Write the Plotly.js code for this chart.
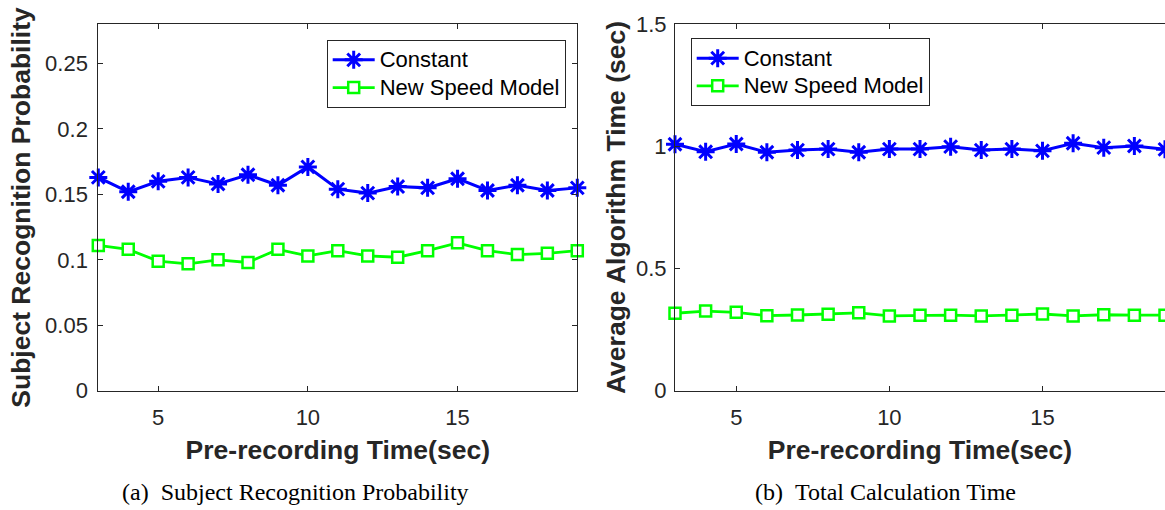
<!DOCTYPE html>
<html>
<head>
<meta charset="utf-8">
<script src="https://cdn.plot.ly/plotly-3.0.1.min.js"></script>
<style>
  html, body { margin: 0; padding: 0; background: #fff; }
  #chart { width: 1165px; height: 510px; }
</style>
</head>
<body>
<div id="chart"></div>
<script>
// ---- data ----
const preRecordingTime = [3, 4, 5, 6, 7, 8, 9, 10, 11, 12, 13, 14, 15, 16, 17, 18, 19];

const constantProb = [0.163, 0.152, 0.160, 0.163, 0.158, 0.165, 0.157, 0.171, 0.154, 0.151, 0.156, 0.155, 0.162, 0.153, 0.157, 0.153, 0.155];
const speedModelProb = [0.111, 0.108, 0.099, 0.097, 0.100, 0.098, 0.108, 0.103, 0.107, 0.103, 0.102, 0.107, 0.113, 0.107, 0.104, 0.105, 0.107];

const constantTime = [1.009, 0.978, 1.010, 0.976, 0.985, 0.989, 0.976, 0.989, 0.989, 0.999, 0.985, 0.989, 0.982, 1.013, 0.995, 1.002, 0.988];
const speedModelTime = [0.317, 0.326, 0.321, 0.307, 0.310, 0.313, 0.319, 0.306, 0.309, 0.309, 0.306, 0.309, 0.314, 0.306, 0.311, 0.309, 0.309];

const seriesNames = ["Constant", "New Speed Model"];
const xTitle = "Pre-recording Time(sec)";
const yTitleLeft = "Subject Recognition Probability";
const yTitleRight = "Average Algorithm Time (sec)";
const captionLeft = "(a)&nbsp;&nbsp;Subject Recognition Probability";
const captionRight = "(b)&nbsp;&nbsp;Total Calculation Time";
const xTickVals = [5, 10, 15];

// ---- styling ----
const W = 1165, H = 510;
const BLUE = "#0000FF", GREEN = "#00FF00";
const AX = "#262626";
const SANS = "'Liberation Sans', Arial, Helvetica, sans-serif";
const SERIF = "'Liberation Serif', 'Times New Roman', Times, serif";

const plotTopPx = 24.3, plotBottomPx = 390.7;
const yDom = [1 - plotBottomPx / H, 1 - plotTopPx / H];

function legendLabel(s) {
  return "<span style='font-size:22px'>" + s + "</span>";
}

function blueTrace(y, xa, ya, lg) {
  return {
    x: preRecordingTime, y: y, xaxis: xa, yaxis: ya, legend: lg,
    name: legendLabel(seriesNames[0]), type: "scatter", mode: "lines+markers",
    line: { color: BLUE, width: 3 },
    marker: { symbol: "asterisk-open", size: 15, color: BLUE, line: { color: BLUE, width: 3 } },
    cliponaxis: false
  };
}
function greenTrace(y, xa, ya, lg) {
  return {
    x: preRecordingTime, y: y, xaxis: xa, yaxis: ya, legend: lg,
    name: legendLabel(seriesNames[1]), type: "scatter", mode: "lines+markers",
    line: { color: GREEN, width: 2.8 },
    marker: { symbol: "square", size: 11, color: "#ffffff", line: { color: GREEN, width: 2.5 } },
    cliponaxis: false
  };
}

const data = [
  blueTrace(constantProb, "x", "y", "legend"),
  greenTrace(speedModelProb, "x", "y", "legend"),
  blueTrace(constantTime, "x2", "y2", "legend2"),
  greenTrace(speedModelTime, "x2", "y2", "legend2")
];

const tickFont = { family: SANS, size: 22, color: AX };
const titleFont = { family: SANS, size: 26.5, color: AX, weight: "bold" };

function xAxis(domain, anchor) {
  return {
    domain: domain, anchor: anchor, range: [3, 19],
    tickvals: xTickVals, ticks: "inside", ticklen: 5, tickcolor: AX, tickwidth: 1,
    showline: true, linecolor: AX, linewidth: 1, mirror: "ticks",
    showgrid: false, zeroline: false, tickfont: tickFont, ticklabelstandoff: 7,
    title: { text: xTitle, font: titleFont, standoff: 11 }
  };
}

const legendBase = {
  xanchor: "left", yanchor: "top",
  bgcolor: "#ffffff", bordercolor: AX, borderwidth: 1,
  font: { family: SANS, size: 19, color: "#000000" },
  itemwidth: 42, tracegroupgap: 0
};

const layout = {
  width: W, height: H,
  margin: { l: 0, r: 0, t: 0, b: 0, pad: 0 },
  paper_bgcolor: "#ffffff", plot_bgcolor: "#ffffff",
  showlegend: true,
  xaxis: xAxis([98.3 / W, 577.3 / W], "y"),
  yaxis: {
    domain: yDom, anchor: "x", range: [0, 0.28], dtick: 0.05, tick0: 0,
    ticks: "inside", ticklen: 5, tickcolor: AX, tickwidth: 1,
    showline: true, linecolor: AX, linewidth: 1, mirror: "ticks",
    showgrid: false, zeroline: false, tickfont: tickFont, ticklabelstandoff: 5,
    title: { text: yTitleLeft, font: titleFont, standoff: 6 }
  },
  xaxis2: xAxis([675 / W, 1], "y2"),
  yaxis2: {
    domain: yDom, anchor: "x2", range: [0, 1.5], dtick: 0.5, tick0: 0,
    ticks: "inside", ticklen: 5, tickcolor: AX, tickwidth: 1,
    showline: true, linecolor: AX, linewidth: 1, mirror: false,
    showgrid: false, zeroline: false, tickfont: tickFont, ticklabelstandoff: 3,
    title: { text: yTitleRight, font: titleFont, standoff: 2 }
  },
  legend: Object.assign({}, legendBase, { x: 326.7 / W, y: 1 - 40 / H }),
  legend2: Object.assign({}, legendBase, { x: 690.7 / W, y: 1 - 38.3 / H }),
  annotations: [
    { text: captionLeft, xref: "paper", yref: "paper", x: 295 / W, y: 1 - 492 / H,
      xanchor: "center", yanchor: "middle", showarrow: false,
      font: { family: SERIF, size: 24, color: "#000000" } },
    { text: captionRight, xref: "paper", yref: "paper", x: 885.6 / W, y: 1 - 492 / H,
      xanchor: "center", yanchor: "middle", showarrow: false,
      font: { family: SERIF, size: 24, color: "#000000" } }
  ]
};

Plotly.newPlot("chart", data, layout, { displayModeBar: false, staticPlot: true });
</script>
</body>
</html>
